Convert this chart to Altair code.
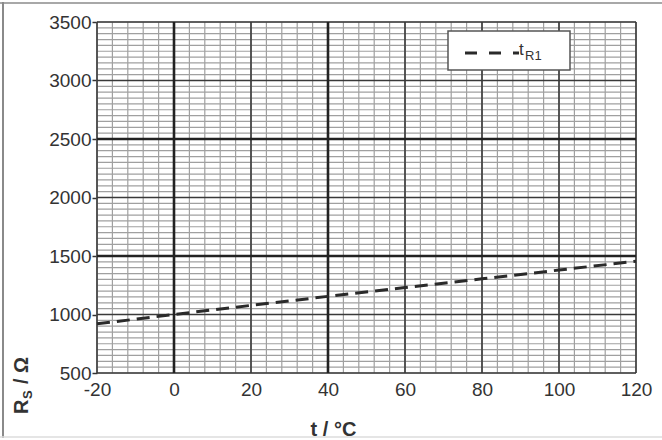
import altair as alt
import pandas as pd

# ---- data ----
t_vals = [-20, 0, 20, 40, 60, 80, 100, 120]
r_vals = [920, 1000, 1078, 1155, 1230, 1305, 1380, 1455]

x_ticks = [-20, 0, 20, 40, 60, 80, 100, 120]
y_ticks = [500, 1000, 1500, 2000, 2500, 3000, 3500]

x_minor = list(range(-20, 121, 4))
y_minor = list(range(500, 3501, 50))
x_medium = [-20, 20, 60, 80, 100, 120]
x_thick = [0, 40]
y_medium = [500, 1000, 2000, 3000, 3500]
y_thick = [1500, 2500]

FONT = "Liberation Sans"
W, H = 539, 351

xs = alt.Scale(domain=[-20, 120], nice=False, zero=False)
ys = alt.Scale(domain=[500, 3500], nice=False, zero=False)

x_axis = alt.Axis(
    values=x_ticks, domain=False, grid=False, ticks=False,
    labelExpr="'' + datum.value", labelFlush=False, labelOverlap=False,
    labelFont=FONT, labelFontSize=19, labelColor="#333333",
    labelPadding=7, title="t / °C", titleFont=FONT,
    titleFontSize=20, titleFontWeight="bold", titleColor="#333333",
    titleX=236, titleY=62, titleAlign="center",
    titleBaseline="alphabetic",
)
y_axis = alt.Axis(
    values=y_ticks, domain=False, grid=False, ticks=True,
    labelExpr="'' + datum.value", labelFlush=False, labelOverlap=False,
    tickSize=5, tickColor="#333333", tickWidth=1.5,
    labelFont=FONT, labelFontSize=19, labelColor="#333333",
    labelPadding=1, title="",
)

one = pd.DataFrame({"a": [0]})


def vrules(vals, color, width):
    return alt.Chart(pd.DataFrame({"t": vals})).mark_rule(
        color=color, strokeWidth=width
    ).encode(x=alt.X("t:Q", scale=xs, axis=x_axis))


def hrules(vals, color, width):
    return alt.Chart(pd.DataFrame({"r": vals})).mark_rule(
        color=color, strokeWidth=width
    ).encode(y=alt.Y("r:Q", scale=ys, axis=y_axis))


layers = [
    vrules(x_minor, "#a0a0a0", 1.2), hrules(y_minor, "#a0a0a0", 1.2),
    vrules(x_medium, "#3a3a3a", 1.6), hrules(y_medium, "#3a3a3a", 1.6),
    vrules(x_thick, "#222222", 2.6), hrules(y_thick, "#222222", 2.6),
]

df = pd.DataFrame({"t": t_vals, "r": r_vals})
layers.append(alt.Chart(df).mark_line(
    color="#2a2a2a", strokeWidth=3, strokeDash=[13, 7]
).encode(
    x=alt.X("t:Q", scale=xs, axis=x_axis),
    y=alt.Y("r:Q", scale=ys, axis=y_axis),
))

# legend box
layers.append(alt.Chart(one).mark_rect(
    fill="white", stroke="#555555", strokeWidth=1.5
).encode(x=alt.value(351), x2=alt.value(473), y=alt.value(9), y2=alt.value(48)))
layers.append(alt.Chart(one).mark_rule(
    color="#2a2a2a", strokeWidth=3, strokeDash=[12, 12]
).encode(x=alt.value(368), x2=alt.value(422), y=alt.value(31)))
layers.append(alt.Chart(one).mark_text(
    text="t", font=FONT, fontSize=17, color="#333333", align="left",
    baseline="alphabetic"
).encode(x=alt.value(422), y=alt.value(33)))
layers.append(alt.Chart(one).mark_text(
    text="R1", font=FONT, fontSize=13, color="#333333", align="left",
    baseline="alphabetic"
).encode(x=alt.value(428), y=alt.value(38)))

# y title  R_S / Ω (rotated)
layers.append(alt.Chart(one).mark_text(
    text="R", font=FONT, fontSize=20, fontWeight="bold", color="#333333",
    angle=270, align="left", baseline="alphabetic"
).encode(x=alt.value(-69), y=alt.value(392)))
layers.append(alt.Chart(one).mark_text(
    text="S", font=FONT, fontSize=13, fontWeight="bold", color="#333333",
    angle=270, align="left", baseline="alphabetic"
).encode(x=alt.value(-65), y=alt.value(377)))
layers.append(alt.Chart(one).mark_text(
    text="/ Ω", font=FONT, fontSize=20, fontWeight="bold", color="#333333",
    angle=270, align="left", baseline="alphabetic"
).encode(x=alt.value(-69), y=alt.value(362)))

# outer frame of the figure
layers.append(alt.Chart(one).mark_rule(color="#a8a8a8", strokeWidth=2).encode(
    x=alt.value(-97), x2=alt.value(565), y=alt.value(-19)))
layers.append(alt.Chart(one).mark_rule(color="#8a8a8a", strokeWidth=2).encode(
    x=alt.value(-94), y=alt.value(-20), y2=alt.value(416)))
layers.append(alt.Chart(one).mark_rule(color="#dddddd", strokeWidth=1.5).encode(
    x=alt.value(-97), x2=alt.value(565), y=alt.value(415)))

chart = alt.layer(*layers).properties(
    width=W, height=H,
    autosize=alt.AutoSizeParams(type="none"),
    padding={"left": 97, "top": 22, "right": 26, "bottom": 67},
    background="white",
).configure_view(stroke=None)

chart.save("out.html", embed_options={"renderer": "svg", "actions": False})
